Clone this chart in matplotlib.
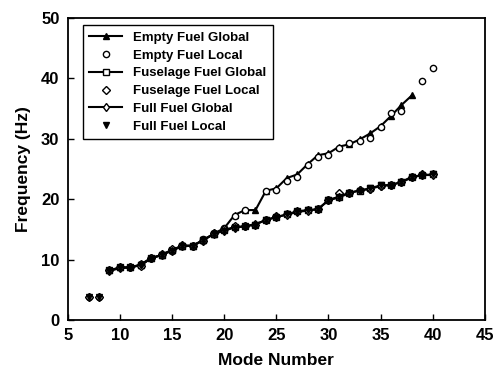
import numpy as np
import matplotlib.pyplot as plt

plt.rcParams['font.family'] = ['Liberation Sans', 'DejaVu Sans']
plt.rcParams['font.weight'] = 'bold'

# mode numbers
modes_g = list(range(9, 41))
modes_e = list(range(9, 39))

# global results (lines)
empty_global = [8.2, 8.7, 8.7, 9.1, 10.2, 10.8, 11.6, 12.3, 12.3, 13.2, 14.3, 15.2,
                 17.4, 18.2, 18.2, 21.4, 21.8, 23.5, 24.1, 25.8, 27.3, 27.6, 28.7,
                 29.1, 29.9, 30.9, 32.1, 33.8, 35.6, 37.2]
fuse_global = [8.2, 8.7, 8.7, 9.1, 10.2, 10.8, 11.6, 12.3, 12.3, 13.2, 14.3, 14.9,
               15.4, 15.5, 15.8, 16.6, 17.0, 17.5, 18.0, 18.2, 18.3, 19.9, 20.4,
               21.1, 21.4, 21.8, 22.3, 22.3, 22.9, 23.7, 24.0, 24.1]
full_global = [8.1, 8.6, 8.7, 9.2, 10.3, 10.7, 11.5, 12.2, 12.3, 13.3, 14.2, 14.8,
               15.3, 15.5, 15.9, 16.5, 17.1, 17.4, 17.9, 18.1, 18.4, 19.8, 20.3,
               21.0, 21.5, 21.7, 22.2, 22.4, 22.8, 23.6, 24.0, 24.0]

# local results (markers only)
empty_local_x = [7, 8, 9, 10, 11, 12, 13, 14, 15, 16, 17, 18, 19, 20, 21, 22, 24, 25,
                 26, 27, 28, 29, 30, 31, 32, 33, 34, 35, 36, 37, 39, 40]
empty_local = [3.8, 3.8, 8.2, 8.7, 8.8, 9.2, 10.3, 10.8, 11.5, 12.2, 12.2, 13.4, 14.4,
               15.3, 17.3, 18.2, 21.3, 21.5, 23.0, 23.6, 25.6, 27.0, 27.4, 28.5,
               29.3, 29.6, 30.2, 32.0, 34.3, 34.6, 39.6, 41.7]
fuse_local_x = list(range(7, 41))
fuse_local = [3.8, 3.8, 8.3, 8.8, 8.7, 9.0, 10.3, 10.9, 11.7, 12.4, 12.2, 13.1, 14.4,
              15.0, 15.5, 15.6, 15.7, 16.5, 17.2, 17.6, 18.1, 18.2, 18.4, 19.8, 21.0,
              21.1, 21.5, 21.7, 22.2, 22.3, 22.9, 23.6, 24.1, 24.1]
full_local_x = list(range(7, 41))
full_local = [3.8, 3.8, 8.1, 8.6, 8.6, 9.1, 10.1, 10.7, 11.5, 12.2, 12.3, 13.2, 14.2,
              14.8, 15.3, 15.4, 15.8, 16.6, 16.9, 17.5, 17.9, 18.2, 18.3, 19.9, 20.4,
              21.0, 21.3, 21.8, 22.3, 22.2, 22.9, 23.7, 23.9, 24.1]

fig = plt.figure(figsize=(5.02, 3.76), dpi=100)
ax = fig.add_axes([0.135, 0.149, 0.831, 0.803])

ax.plot(modes_e, empty_global, color='black', lw=1.5, marker='^', ms=4.5,
        mfc='black', mec='black', label='Empty Fuel Global')
ax.plot(empty_local_x, empty_local, ls='none', marker='o', ms=4.5, mfc='white',
        mec='black', mew=1.0, label='Empty Fuel Local')
ax.plot(modes_g, fuse_global, color='black', lw=1.5, marker='s', ms=4.5,
        mfc='white', mec='black', label='Fuselage Fuel Global')
ax.plot(fuse_local_x, fuse_local, ls='none', marker='D', ms=4, mfc='white',
        mec='black', mew=1.0, label='Fuselage Fuel Local')
ax.plot(modes_g, full_global, color='black', lw=1.5, marker='d', ms=4.5,
        mfc='white', mec='black', label='Full Fuel Global')
ax.plot(full_local_x, full_local, ls='none', marker='v', ms=4.5, mfc='black',
        mec='black', label='Full Fuel Local')

ax.set_xlim(5, 45)
ax.set_ylim(0, 50)
ax.set_xticks(np.arange(5, 46, 5))
ax.set_yticks(np.arange(0, 51, 10))
ax.tick_params(direction='in', length=4, width=1, labelsize=12, pad=6)
for lbl in ax.get_xticklabels() + ax.get_yticklabels():
    lbl.set_fontweight('bold')
for s in ax.spines.values():
    s.set_linewidth(1.3)

ax.set_xlabel('Mode Number', fontsize=12.5, fontweight='bold', labelpad=7)
ax.set_ylabel('Frequency (Hz)', fontsize=12.5, fontweight='bold', labelpad=7)

leg = ax.legend(loc='upper left', bbox_to_anchor=(0.036, 0.977), borderaxespad=0,
                fancybox=False, edgecolor='black', framealpha=1,
                prop={'size': 9.5, 'weight': 'bold'}, handlelength=2.5,
                labelspacing=0.42, borderpad=0.5)
leg.get_frame().set_linewidth(1.0)

fig.savefig('out.png', dpi=100)
